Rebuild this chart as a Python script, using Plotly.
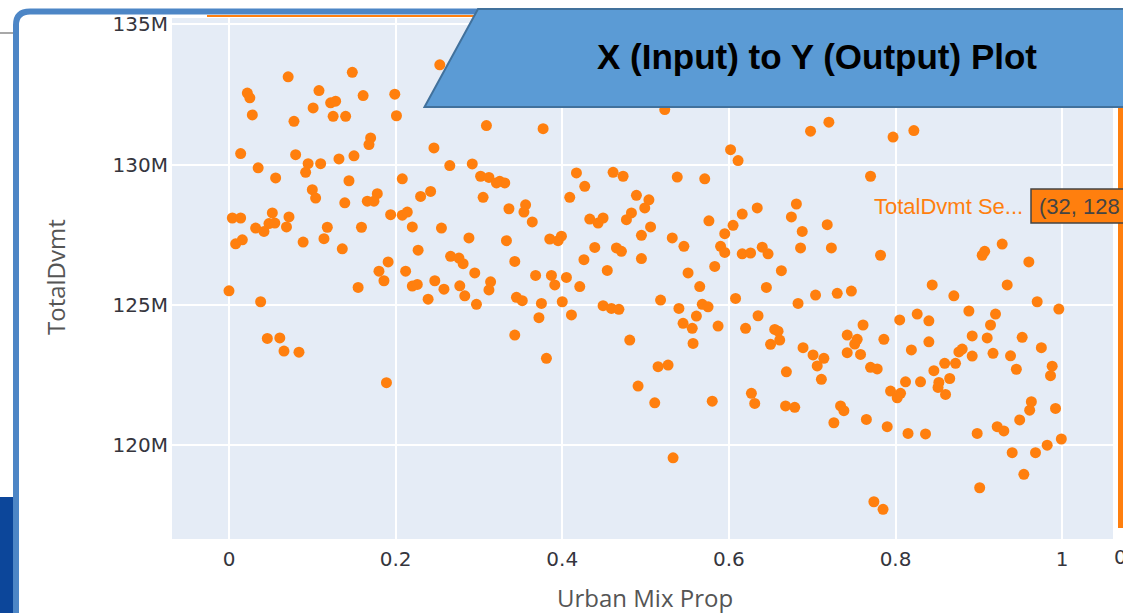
import plotly.graph_objects as go

# ---------------- data ----------------
urban_mix_prop = [
    0.071, 0.148, 0.022, 0.025, 0.108, 0.161, 0.199, 0.253, 0.122, 0.128,
    0.101, 0.028, 0.125, 0.140, 0.201, 0.078, 0.309, 0.170, 0.168, 0.246,
    0.014, 0.080, 0.150, 0.132, 0.095, 0.110, 0.265, 0.292, 0.035, 0.092,
    0.056, 0.144, 0.208, 0.302, 0.312, 0.100, 0.104, 0.178, 0.166, 0.174,
    0.139, 0.230, 0.242, 0.305, 0.052, 0.072, 0.004, 0.014, 0.048, 0.055,
    0.032, 0.042, 0.069, 0.118, 0.159, 0.194, 0.208, 0.214, 0.220, 0.255,
    0.288, 0.008, 0.016, 0.089, 0.114, 0.136, 0.227, 0.266, 0.276, 0.281,
    0.191, 0.180, 0.212, 0.295,
    0.000, 0.038, 0.046, 0.061, 0.066, 0.084, 0.189, 0.155, 0.186, 0.220,
    0.226, 0.247, 0.258, 0.239, 0.277, 0.283, 0.297, 0.312, 0.314,
    0.523, 0.377, 0.602, 0.611, 0.417, 0.427, 0.461, 0.473, 0.538, 0.571,
    0.325, 0.331, 0.321, 0.409, 0.489, 0.504, 0.499, 0.336, 0.356, 0.354,
    0.364, 0.433, 0.443, 0.449, 0.477, 0.483, 0.506, 0.576, 0.616, 0.634,
    0.605, 0.595, 0.681, 0.675, 0.688, 0.333, 0.385, 0.399, 0.395, 0.495,
    0.532, 0.546, 0.439, 0.465, 0.471, 0.590, 0.595, 0.616, 0.626, 0.640,
    0.647, 0.686, 0.343, 0.426, 0.495, 0.583, 0.663, 0.454, 0.551, 0.368,
    0.387, 0.405,
    0.391, 0.421, 0.345, 0.352, 0.375, 0.400, 0.372, 0.411, 0.343, 0.381,
    0.449, 0.459, 0.468, 0.481, 0.518, 0.540, 0.565, 0.568, 0.575, 0.561,
    0.545, 0.556, 0.587, 0.557, 0.515, 0.527, 0.491, 0.511, 0.580, 0.533,
    0.608, 0.645, 0.635, 0.620, 0.655, 0.659, 0.661, 0.650, 0.683, 0.689,
    0.669, 0.627, 0.631, 0.668, 0.679,
    0.720, 0.698, 0.797, 0.822, 0.770, 0.718, 0.723, 0.782, 0.904, 0.907,
    0.928, 0.960,
    0.704, 0.730, 0.747, 0.844, 0.870, 0.934, 0.970, 0.996, 0.761, 0.805,
    0.826, 0.840, 0.888, 0.920, 0.914, 0.742, 0.754, 0.751, 0.786, 0.840,
    0.892, 0.910, 0.952, 0.975, 0.701, 0.714, 0.706, 0.742, 0.758, 0.819,
    0.876, 0.880, 0.872, 0.892, 0.917, 0.938, 0.770, 0.778, 0.859, 0.846,
    0.945, 0.988, 0.986, 0.711, 0.812, 0.830, 0.852, 0.851, 0.865, 0.860,
    0.794, 0.806, 0.802, 0.734, 0.738, 0.726, 0.765, 0.790, 0.815, 0.836,
    0.898, 0.922, 0.930, 0.949, 0.961, 0.963, 0.992, 0.940, 0.968, 0.982,
    0.999, 0.954, 0.901, 0.774, 0.785,
]

total_dvmt_millions = [
    133.13, 133.29, 132.55, 132.38, 132.64, 132.46, 132.51, 133.56, 132.20, 132.26,
    132.02, 131.77, 131.72, 131.72, 131.74, 131.54, 131.39, 130.95, 130.71, 130.59,
    130.39, 130.35, 130.31, 130.20, 130.03, 130.03, 129.96, 130.02, 129.88, 129.72,
    129.52, 129.42, 129.49, 129.58, 129.54, 129.10, 128.80, 128.96, 128.69, 128.69,
    128.63, 128.86, 129.04, 128.83, 128.27, 128.13, 128.09, 128.09, 127.89, 127.91,
    127.73, 127.61, 127.77, 127.76, 127.76, 128.21, 128.19, 128.30, 127.77, 127.73,
    127.38, 127.17, 127.31, 127.23, 127.35, 126.99, 126.94, 126.72, 126.66, 126.46,
    126.52, 126.19, 126.19, 126.13,
    125.49, 125.10, 123.79, 123.81, 123.34, 123.30, 122.21, 125.61, 125.85, 125.66,
    125.72, 125.85, 125.55, 125.19, 125.67, 125.31, 125.01, 125.52, 125.81,
    131.96, 131.28, 130.53, 130.14, 129.70, 129.22, 129.72, 129.58, 129.55, 129.49,
    129.40, 129.34, 129.34, 128.83, 128.90, 128.74, 128.45, 128.42, 128.56, 128.30,
    127.95, 128.05, 127.91, 128.09, 128.03, 128.27, 127.77, 127.99, 128.23, 128.45,
    127.83, 127.53, 128.59, 128.13, 127.61, 127.28, 127.34, 127.44, 127.28, 127.47,
    127.38, 127.08, 127.04, 127.02, 126.90, 127.08, 126.86, 126.81, 126.84, 127.05,
    126.81, 127.02, 126.54, 126.60, 126.64, 126.36, 126.21, 126.22, 126.13, 126.04,
    126.04, 125.97,
    125.70, 125.64, 125.26, 125.14, 125.04, 125.10, 124.53, 124.63, 123.91, 123.08,
    124.96, 124.86, 124.83, 123.73, 125.16, 124.86, 125.64, 125.01, 124.92, 124.59,
    124.33, 124.15, 124.23, 123.61, 122.78, 122.84, 122.09, 121.49, 121.55, 119.53,
    125.22, 125.61, 124.60, 124.15, 124.11, 124.05, 123.73, 123.58, 125.04, 123.46,
    122.60, 121.83, 121.47, 121.38, 121.33,
    131.51, 131.19, 130.98, 131.21, 129.58, 127.85, 127.02, 126.76, 126.76, 126.90,
    127.16, 126.52,
    125.34, 125.40, 125.48, 125.70, 125.31, 125.70, 125.10, 124.84, 124.27, 124.45,
    124.66, 124.42, 124.77, 124.66, 124.27, 123.91, 123.76, 123.59, 123.76, 123.67,
    123.88, 123.81, 123.83, 123.46, 123.20, 123.08, 122.81, 123.28, 123.22, 123.38,
    123.31, 123.41, 122.90, 123.16, 123.26, 123.17, 122.76, 122.70, 122.90, 122.64,
    122.69, 122.80, 122.46, 122.33, 122.24, 122.24, 122.22, 122.04, 122.36, 121.79,
    121.91, 121.83, 121.67, 121.38, 121.21, 120.78, 120.90, 120.64, 120.40, 120.38,
    120.40, 120.64, 120.49, 120.88, 121.23, 121.53, 121.29, 119.71, 119.71, 119.98,
    120.20, 118.94, 118.46, 117.96, 117.69,
]

x_tick_values = [0, 0.2, 0.4, 0.6, 0.8, 1]
x_tick_labels = ["0", "0.2", "0.4", "0.6", "0.8", "1"]
y_tick_values = [120e6, 125e6, 130e6, 135e6]
y_tick_labels = ["120M", "125M", "130M", "135M"]

banner_title = "X (Input) to Y (Output) Plot"
x_title = "Urban Mix Prop"
y_title = "TotalDvmt"
hover_name = "TotalDvmt Se..."
hover_value = "(32, 128"

# ---------------- layout helpers (pixel -> paper) ----------------
W, H = 1123, 613
L, R, T, B = 172, 1113, 18, 539


def px(x):
    return (x - L) / (R - L)


def py(y):
    return (B - y) / (B - T)


ORANGE = "#FF7F0E"
TICK_COLOR = "#35353d"

fig = go.Figure()
fig.add_trace(go.Scatter(
    x=urban_mix_prop,
    y=[v * 1e6 for v in total_dvmt_millions],
    mode="markers",
    name="TotalDvmt Series",
    marker=dict(color=ORANGE, size=11),
    showlegend=False,
))

shapes = []
# orange top edge line (behind banner)
shapes.append(dict(type="line", xref="paper", yref="paper",
                   x0=px(207), x1=px(1130), y0=py(16), y1=py(16),
                   line=dict(color=ORANGE, width=2), layer="above"))
# orange right vertical line
shapes.append(dict(type="line", xref="paper", yref="paper",
                   x0=px(1120.5), x1=px(1120.5), y0=py(16), y1=py(528),
                   line=dict(color=ORANGE, width=5), layer="above"))
# slide frame
frame_path = (f"M {px(16)},{py(620)} L {px(16)},{py(25)} "
              f"Q {px(16)},{py(11.5)} {px(30)},{py(11.5)} L {px(1135)},{py(11.5)}")
shapes.append(dict(type="path", xref="paper", yref="paper", path=frame_path,
                   line=dict(color="#4D86C6", width=6), layer="above"))
# gray line at top-left outside the frame
shapes.append(dict(type="line", xref="paper", yref="paper",
                   x0=px(0), x1=px(13), y0=py(33), y1=py(33),
                   line=dict(color="#A8A8A8", width=2), layer="above"))
# dark blue block bottom-left
shapes.append(dict(type="rect", xref="paper", yref="paper",
                   x0=px(0), x1=px(13), y0=py(497), y1=py(620),
                   fillcolor="#0C469A", line=dict(width=0), layer="above"))
# banner parallelogram
banner_path = (f"M {px(478)},{py(9)} L {px(1135)},{py(9)} "
               f"L {px(1135)},{py(107)} L {px(424.5)},{py(107)} Z")
shapes.append(dict(type="path", xref="paper", yref="paper", path=banner_path,
                   fillcolor="#5B9BD5", line=dict(color="#41719C", width=2),
                   layer="above"))
# hover value box
shapes.append(dict(type="rect", xref="paper", yref="paper",
                   x0=px(1031), x1=px(1140), y0=py(189), y1=py(223),
                   fillcolor=ORANGE, line=dict(color="#444444", width=1.5),
                   layer="above"))

annotations = [
    dict(text=banner_title, xref="paper", yref="paper", x=px(817), y=py(57),
         xanchor="center", yanchor="middle", showarrow=False,
         font=dict(family="Liberation Sans", size=35, color="#000000", weight="bold")),
    dict(text=y_title, xref="paper", yref="paper", x=px(55), y=py(277),
         xanchor="center", yanchor="middle", showarrow=False, textangle=-90,
         font=dict(family="Open Sans", size=24, color="#555555")),
    dict(text=x_title, xref="paper", yref="paper", x=px(645), y=py(597),
         xanchor="center", yanchor="middle", showarrow=False,
         font=dict(family="Open Sans", size=24, color="#555555")),
    dict(text=hover_name, xref="paper", yref="paper", x=px(1025), y=py(206),
         xanchor="right", yanchor="middle", showarrow=False,
         font=dict(family="Liberation Sans", size=22, color=ORANGE)),
    dict(text=hover_value, xref="paper", yref="paper", x=px(1037), y=py(206),
         xanchor="left", yanchor="middle", showarrow=False,
         font=dict(family="Liberation Sans", size=22, color="#444444")),
    dict(text="0", xref="paper", yref="paper", x=px(1112), y=py(557),
         xanchor="left", yanchor="middle", showarrow=False,
         font=dict(family="DejaVu Sans", size=20, color=TICK_COLOR)),
]

fig.update_layout(
    width=W, height=H,
    margin=dict(l=L, r=W - R, t=T, b=H - B, pad=0),
    paper_bgcolor="white",
    plot_bgcolor="#E5ECF6",
    shapes=shapes,
    annotations=annotations,
    showlegend=False,
    xaxis=dict(
        range=[-0.0684, 1.061],
        tickvals=x_tick_values, ticktext=x_tick_labels,
        showgrid=True, gridcolor="white", gridwidth=2,
        zeroline=False, showline=False, ticks="",
        ticklabelstandoff=6,
        tickfont=dict(family="DejaVu Sans", size=20, color=TICK_COLOR),
        automargin=False,
    ),
    yaxis=dict(
        range=[116.63e6, 135.23e6],
        tickvals=y_tick_values, ticktext=y_tick_labels,
        showgrid=True, gridcolor="white", gridwidth=2,
        zeroline=False, showline=False, ticks="",
        ticklabelstandoff=3,
        tickfont=dict(family="DejaVu Sans", size=20, color=TICK_COLOR),
        automargin=False,
    ),
)

fig.write_html(
    "out.html",
    config={"displayModeBar": False},
    post_script="document.body.style.margin='0';document.body.style.overflow='hidden';",
)
